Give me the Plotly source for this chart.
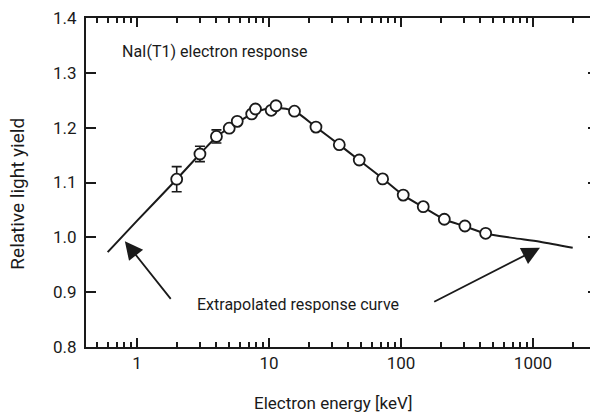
import math
import plotly.graph_objects as go

# Measured points: electron energy [keV] vs relative light yield
energy_kev = [2.0, 3.0, 4.0, 5.0, 5.75, 7.4, 7.9, 10.4, 11.3, 15.6,
              22.7, 34.1, 48.3, 72.6, 104, 147.5, 213, 305, 438]
light_yield = [1.106, 1.152, 1.184, 1.199, 1.2115, 1.225, 1.234, 1.2316, 1.240, 1.230,
               1.201, 1.169, 1.141, 1.1066, 1.077, 1.056, 1.033, 1.0207, 1.0073]
yield_err = [0.023, 0.014, 0.012, 0, 0, 0, 0, 0, 0, 0,
             0, 0, 0, 0, 0, 0, 0, 0, 0]

# Response curve, including the extrapolated ends
curve_kev = [0.6, 1.0, 2.0, 3.0, 4.0, 5.0, 6.0, 8.0, 11.0, 15.6, 22.7, 34, 48,
             73, 104, 148, 213, 305, 438, 700, 1130, 2000]
curve_yield = [0.973, 1.030, 1.106, 1.152, 1.183, 1.200, 1.212, 1.229, 1.236, 1.230,
               1.201, 1.169, 1.141, 1.107, 1.077, 1.055, 1.033, 1.020, 1.007,
               0.999, 0.992, 0.981]

x_ticks = [1, 10, 100, 1000]
x_tick_text = ["1", "10", "100", "1000"]
y_ticks = [0.8, 0.9, 1.0, 1.1, 1.2, 1.3, 1.4]

# Arrow ends (energy, yield): head then tail
arrow_left = [(0.81, 0.993), (1.84, 0.885)]
arrow_right = [(1130, 0.981), (174, 0.881)]

FONT = "Roboto, DejaVu Sans Condensed, sans-serif"
INK = "#1a1a1a"
FS = 16
FS_AXIS = 17
x_range = [-0.386, 3.432]
y_range = [0.8, 1.4]

fig = go.Figure()

fig.add_trace(go.Scatter(
    x=curve_kev, y=curve_yield, mode="lines",
    line=dict(color=INK, width=2, shape="spline", smoothing=0.8),
    hoverinfo="skip", showlegend=False,
))

fig.add_trace(go.Scatter(
    x=energy_kev, y=light_yield, mode="markers",
    marker=dict(symbol="circle", size=11, color="white",
                line=dict(color=INK, width=1.8)),
    error_y=dict(type="data", array=yield_err, visible=True,
                 color=INK, thickness=1.6, width=5),
    showlegend=False,
))

# Invisible trace so the mirrored top/right axes are drawn
fig.add_trace(go.Scatter(x=[1], y=[1], xaxis="x2", yaxis="y2",
                         mode="markers", marker=dict(opacity=0),
                         hoverinfo="skip", showlegend=False))

minor = dict(ticks="inside", ticklen=5, tickwidth=1.5, tickcolor=INK,
             dtick="D1", showgrid=False)

fig.update_layout(
    width=590, height=417,
    margin=dict(l=86, r=0, t=18, b=70),
    paper_bgcolor="white", plot_bgcolor="white",
    font=dict(family=FONT, size=FS, color=INK),
    xaxis=dict(
        type="log", range=x_range, tickvals=x_ticks, ticktext=x_tick_text,
        ticks="inside", ticklen=9, tickwidth=2, tickcolor=INK,
        showline=True, linewidth=2, linecolor=INK, mirror=False,
        showgrid=False, zeroline=False, minor=minor,
        tickfont=dict(size=FS_AXIS),
    ),
    xaxis2=dict(
        type="log", range=x_range, overlaying="x", side="top",
        tickvals=x_ticks, showticklabels=False,
        ticks="inside", ticklen=9, tickwidth=2, tickcolor=INK,
        showline=True, linewidth=2, linecolor=INK,
        showgrid=False, zeroline=False, minor=minor,
    ),
    yaxis=dict(
        range=y_range, tickvals=y_ticks, tickformat=".1f",
        ticks="inside", ticklen=10, tickwidth=2, tickcolor=INK,
        showline=True, linewidth=2, linecolor=INK, mirror=False,
        showgrid=False, zeroline=False,
        tickfont=dict(size=FS_AXIS), ticklabelstandoff=4,
    ),
    yaxis2=dict(
        range=y_range, overlaying="y", side="right", tickvals=y_ticks,
        showticklabels=False, ticks="inside", ticklen=2, tickwidth=2,
        tickcolor=INK, showline=False, showgrid=False, zeroline=False,
    ),
)

# Axis titles
fig.add_annotation(
    text="Electron energy [keV]", xref="paper", yref="paper",
    x=0.491, y=-0.17, xanchor="center", yanchor="middle",
    showarrow=False, font=dict(size=FS_AXIS),
)
fig.add_annotation(
    text="Relative light yield", xref="paper", yref="paper",
    x=-0.135, y=0.466, xanchor="center", yanchor="middle", textangle=-90,
    showarrow=False, font=dict(size=19),
)

fig.add_annotation(
    text="NaI(T1) electron response", xref="paper", yref="paper",
    x=0.0675, y=0.898, xanchor="left", yanchor="middle",
    showarrow=False, font=dict(size=FS),
)
fig.add_annotation(
    text="Extrapolated response curve", xref="paper", yref="paper",
    x=0.4206, y=0.128, xanchor="center", yanchor="middle",
    showarrow=False, font=dict(size=FS),
)

for (hx, hy), (tx, ty) in (arrow_left, arrow_right):
    fig.add_annotation(
        x=math.log10(hx), y=hy, ax=math.log10(tx), ay=ty,
        xref="x", yref="y", axref="x", ayref="y",
        text="", showarrow=True, arrowhead=2, arrowsize=2.0,
        arrowwidth=1.8, arrowcolor=INK, standoff=0,
    )

fig.write_html("out.html")
